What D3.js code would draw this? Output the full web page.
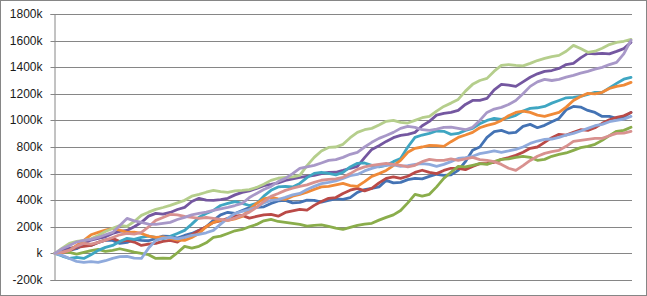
<!DOCTYPE html>
<html>
<head>
<meta charset="utf-8">
<script src="https://cdn.jsdelivr.net/npm/d3@7"></script>
<style>
  body { margin: 0; background: #fff; }
  svg { display: block; }
  .y-axis text { font-family: "Liberation Sans", Arial, sans-serif; font-size: 12px; fill: #1a1a1a; }
</style>
</head>
<body>
<div id="chart"></div>
<script>
// values in thousands, evenly spaced samples across the plot
const yTicks = [-200, 0, 200, 400, 600, 800, 1000, 1200, 1400, 1600, 1800]

const blue = [0, 20, 23, 35, 68, 60, 83, 100, 98, 75, 83, 105, 98, 95, 113, 130, 128, 115, 135, 150, 173, 200, 248, 290, 309, 300, 323, 345, 346, 350, 376, 395, 399, 380, 384, 400, 399, 385, 399, 410, 406, 420, 459, 480, 489, 500, 549, 530, 534, 555, 564, 560, 579, 595, 587, 590, 624, 690, 775, 800, 872, 915, 925, 905, 910, 955, 970, 945, 963, 990, 1015, 1080, 1105, 1100, 1075, 1060, 1030, 1030, 1015, 1025, 1060]
const red = [0, 15, 23, 45, 53, 60, 83, 100, 113, 90, 98, 85, 60, 70, 75, 90, 98, 85, 120, 140, 173, 200, 233, 245, 263, 280, 286, 265, 278, 290, 293, 280, 308, 320, 331, 325, 361, 390, 414, 420, 451, 475, 489, 470, 489, 530, 564, 575, 564, 580, 609, 625, 609, 600, 624, 640, 639, 630, 654, 675, 677, 685, 707, 720, 737, 760, 790, 800, 835, 870, 895, 890, 910, 930, 925, 945, 978, 1005, 1023, 1035, 1060]
const green = [0, 15, 8, -5, 8, 20, 30, 15, 23, 35, 23, 10, 0, -10, -38, -35, -38, 5, 53, 40, 53, 80, 120, 130, 150, 170, 180, 200, 218, 245, 256, 240, 233, 225, 218, 205, 210, 215, 203, 190, 180, 195, 210, 220, 226, 250, 271, 290, 323, 380, 444, 430, 444, 500, 564, 610, 654, 650, 662, 675, 669, 690, 707, 710, 722, 730, 722, 700, 707, 730, 744, 755, 775, 795, 805, 820, 850, 885, 918, 925, 948]
const purple = [0, 25, 38, 50, 75, 100, 113, 125, 150, 165, 173, 200, 233, 280, 301, 295, 308, 330, 346, 390, 414, 400, 398, 405, 414, 440, 459, 470, 489, 510, 519, 530, 549, 560, 572, 580, 587, 600, 609, 610, 624, 640, 654, 720, 782, 810, 842, 870, 887, 895, 910, 960, 993, 1040, 1053, 1060, 1075, 1120, 1150, 1150, 1165, 1230, 1271, 1265, 1256, 1290, 1324, 1350, 1369, 1375, 1391, 1420, 1429, 1470, 1504, 1500, 1504, 1500, 1519, 1540, 1587]
const aqua = [0, -20, -38, -30, -38, -10, 23, 45, 60, 90, 113, 105, 120, 130, 120, 110, 128, 150, 173, 220, 271, 300, 323, 360, 376, 390, 376, 360, 376, 430, 474, 500, 504, 500, 526, 570, 602, 610, 602, 590, 609, 650, 677, 680, 662, 650, 662, 690, 714, 800, 872, 890, 902, 920, 918, 895, 902, 925, 940, 975, 1000, 1015, 1008, 1020, 1038, 1070, 1090, 1095, 1105, 1130, 1150, 1170, 1173, 1180, 1196, 1210, 1211, 1245, 1278, 1310, 1324]
const orange = [0, 5, 23, 60, 98, 140, 158, 175, 188, 175, 158, 160, 150, 130, 120, 125, 113, 100, 98, 120, 150, 200, 233, 250, 248, 260, 278, 330, 376, 410, 421, 410, 406, 430, 444, 460, 481, 500, 504, 515, 526, 510, 504, 540, 579, 600, 624, 660, 699, 760, 790, 800, 812, 810, 805, 840, 872, 890, 910, 945, 963, 975, 1000, 1035, 1060, 1070, 1060, 1040, 1030, 1045, 1060, 1100, 1150, 1180, 1203, 1200, 1211, 1240, 1256, 1265, 1286]
const lightBlue = [0, -15, -38, -60, -68, -62, -68, -55, -38, -25, -23, -35, -38, 40, 98, 115, 120, 110, 120, 135, 143, 155, 173, 220, 263, 300, 316, 330, 346, 380, 399, 405, 421, 440, 451, 480, 504, 525, 534, 545, 564, 585, 594, 620, 639, 655, 662, 665, 654, 660, 669, 675, 669, 655, 669, 690, 714, 720, 730, 750, 760, 770, 760, 770, 782, 800, 827, 845, 857, 860, 872, 890, 902, 920, 940, 960, 970, 990, 1000, 1010, 1030]
const pink = [0, 10, 23, 55, 75, 70, 83, 100, 120, 140, 150, 145, 158, 200, 248, 270, 293, 290, 278, 270, 263, 270, 263, 255, 248, 265, 286, 310, 346, 390, 429, 450, 474, 490, 504, 515, 534, 550, 557, 560, 572, 600, 632, 650, 662, 670, 677, 670, 662, 650, 662, 690, 707, 700, 699, 710, 699, 710, 722, 705, 699, 690, 669, 640, 624, 660, 699, 730, 752, 765, 775, 805, 842, 850, 857, 865, 865, 885, 902, 905, 917]
const lightGreen = [0, 40, 75, 90, 98, 110, 135, 165, 188, 210, 203, 240, 286, 310, 331, 345, 361, 380, 399, 430, 444, 460, 474, 465, 459, 470, 474, 480, 496, 520, 549, 565, 572, 575, 587, 660, 722, 770, 797, 800, 820, 870, 910, 930, 940, 965, 993, 1000, 985, 980, 1000, 1020, 1030, 1070, 1105, 1130, 1158, 1220, 1271, 1300, 1316, 1370, 1414, 1420, 1414, 1410, 1429, 1450, 1466, 1480, 1489, 1520, 1564, 1540, 1512, 1520, 1542, 1570, 1587, 1595, 1609]
const lavender = [0, 35, 60, 85, 98, 105, 120, 140, 158, 210, 263, 245, 233, 220, 218, 225, 233, 255, 271, 290, 301, 310, 323, 335, 346, 360, 376, 420, 451, 480, 504, 540, 564, 600, 639, 650, 662, 680, 699, 705, 722, 745, 760, 800, 835, 865, 887, 910, 940, 955, 948, 930, 925, 935, 948, 950, 940, 930, 948, 1000, 1060, 1085, 1098, 1120, 1150, 1200, 1256, 1290, 1308, 1300, 1308, 1325, 1339, 1355, 1369, 1385, 1399, 1420, 1436, 1500, 1602]

const seriesList = [
  { name: 'blue', values: blue, color: '#4473B4' },
  { name: 'red', values: red, color: '#BA4A47' },
  { name: 'green', values: green, color: '#8AAD4B' },
  { name: 'purple', values: purple, color: '#7457A0' },
  { name: 'aqua', values: aqua, color: '#3FA6C2' },
  { name: 'orange', values: orange, color: '#F08A38' },
  { name: 'lightBlue', values: lightBlue, color: '#8FAADC' },
  { name: 'pink', values: pink, color: '#D8918F' },
  { name: 'lightGreen', values: lightGreen, color: '#B5CE8C' },
  { name: 'lavender', values: lavender, color: '#A898C8' }
]

const width = 647
const height = 296
const margin = { top: 14, right: 15, bottom: 16, left: 54 }
const plotW = width - margin.left - margin.right
const plotH = height - margin.top - margin.bottom

const svg = d3.select('#chart')
  .append('svg')
  .attr('width', width)
  .attr('height', height)

svg.append('rect')
  .attr('x', 0.5)
  .attr('y', 0.5)
  .attr('width', width - 1)
  .attr('height', height - 1)
  .attr('fill', '#fff')
  .attr('stroke', '#868686')

const g = svg.append('g')
  .attr('transform', `translate(${margin.left},${margin.top})`)

// x runs over the fraction of each series, so all series span the plot
const x = d3.scaleLinear()
  .domain([0, 1])
  .range([1, plotW - 1])

const y = d3.scaleLinear()
  .domain([-200, 1800])
  .range([plotH, 0])

// gridlines
g.append('g')
  .attr('class', 'grid')
  .selectAll('line')
  .data(yTicks)
  .join('line')
  .attr('x1', 0)
  .attr('x2', plotW)
  .attr('y1', (d) => Math.round(y(d)) + 0.5)
  .attr('y2', (d) => Math.round(y(d)) + 0.5)
  .attr('stroke', '#868686')
  .attr('stroke-width', 1)

// y axis
const yAxis = g.append('g')
  .attr('class', 'y-axis')
  .attr('transform', 'translate(0.5,0)')
  .call(d3.axisLeft(y)
    .tickValues(yTicks)
    .tickSize(4)
    .tickPadding(8)
    .tickFormat((d) => (d === 0 ? 'k' : `${d}k`)))

yAxis.select('.domain').attr('stroke', '#868686')
yAxis.selectAll('.tick line').attr('stroke', '#868686')
yAxis.selectAll('.tick').attr('transform', (d) => `translate(0,${Math.round(y(d)) + 0.5})`)

// series
const line = d3.line()
  .x((d, i, arr) => x(i / (arr.length - 1)))
  .y((d) => y(d))

g.append('g')
  .attr('class', 'series')
  .selectAll('path')
  .data(seriesList)
  .join('path')
  .attr('d', (d) => line(d.values))
  .attr('fill', 'none')
  .attr('stroke', (d) => d.color)
  .attr('stroke-width', 2.8)
  .attr('stroke-linejoin', 'round')
  .attr('stroke-linecap', 'round')
</script>
</body>
</html>
